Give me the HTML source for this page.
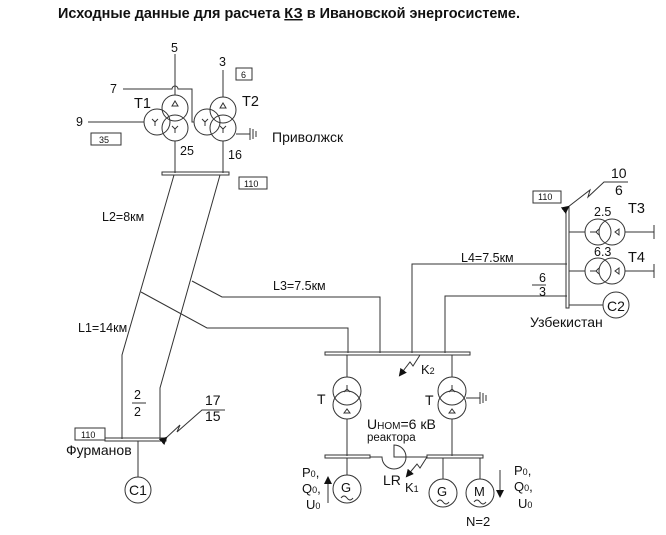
<!DOCTYPE html>
<html><head><meta charset="utf-8"><style>
html,body{margin:0;padding:0;background:#fff;}
svg{display:block;font-family:"Liberation Sans",sans-serif;}
text{fill:#111;}
</style></head><body>
<svg width="666" height="535" viewBox="0 0 666 535" xmlns="http://www.w3.org/2000/svg">
<defs><marker id="ah" markerWidth="8" markerHeight="8" refX="6" refY="4" orient="auto"><path d="M0,0 L8,4 L0,8 z" fill="#111"/></marker></defs>
<text x="58" y="18" font-size="14.5" font-weight="bold" textLength="462" lengthAdjust="spacingAndGlyphs">Исходные данные для расчета <tspan text-decoration="underline">КЗ</tspan> в Ивановской энергосистеме.</text>
<g stroke="#333" stroke-width="1" fill="none">
<line x1="175" y1="54" x2="175" y2="95"/>
<path d="M123 89 H172 A3 3 0 0 1 178 89 H192 V122 H194"/>
<line x1="88" y1="122" x2="144" y2="122"/>
<circle cx="157" cy="122" r="13"/>
<circle cx="175" cy="128" r="13"/>
<circle cx="175" cy="108" r="13"/>
<line x1="223" y1="70" x2="223" y2="97"/>
<circle cx="223" cy="110" r="13"/>
<circle cx="207" cy="122" r="13"/>
<circle cx="223" cy="128" r="13"/>
<path d="M172 106 L175 101 L178 106 Z M220 108 L223 103 L226 108 Z"/>
<path d="M152 119 L155 122 L158 119 M155 122 V126 M202 119 L205 122 L208 119 M205 122 V126 M175 129 L172 126 M175 129 L178 126 M175 129 V133 M223 129 L220 126 M223 129 L226 126 M223 129 V133"/>
<line x1="236" y1="134" x2="250" y2="134"/>
<line x1="250" y1="128" x2="250" y2="140"/><line x1="253" y1="129" x2="253" y2="139"/><line x1="256" y1="131" x2="256" y2="137"/>
<line x1="175" y1="141" x2="175" y2="173"/>
<line x1="223" y1="141" x2="223" y2="173"/>
<rect x="162" y="172" width="67" height="3"/>
<rect x="91" y="133" width="30" height="12"/>
<rect x="236" y="68" width="16" height="12"/>
<rect x="239" y="177" width="28" height="12"/>
<path d="M174 175 L122 355 V439"/>
<path d="M220 175 L160 388 V439"/>
<path d="M141 292 L207 328 H348 V353"/>
<path d="M192 281 L222 297 H380 V353"/>
<path d="M412 353 V264 H567"/>
<path d="M445 353 V296 H567"/>
<rect x="325" y="352" width="145" height="3"/>
<rect x="566" y="207" width="3" height="101"/>
<line x1="569" y1="232" x2="585" y2="232"/>
<circle cx="598" cy="232" r="13"/><circle cx="612" cy="232" r="13"/>
<line x1="625" y1="232" x2="654" y2="232"/><line x1="654" y1="225" x2="654" y2="239"/>
<line x1="569" y1="271" x2="585" y2="271"/>
<circle cx="598" cy="271" r="13"/><circle cx="612" cy="271" r="13"/>
<line x1="625" y1="271" x2="654" y2="271"/><line x1="654" y1="264" x2="654" y2="278"/>
<path d="M590 232 H596 M596 232 L599 229 M596 232 L599 235 M619 229 L615 232 L619 235 Z M590 271 H596 M596 271 L599 268 M596 271 L599 274 M619 268 L615 271 L619 274 Z"/>
<line x1="569" y1="305" x2="603" y2="305"/>
<circle cx="616" cy="305" r="13"/>
<rect x="533" y="191" width="28" height="12"/>
<path d="M568 207 L590 190 L588 197 L604 182 H628" marker-start="url(#ah)"/>
<rect x="105" y="438" width="61" height="3"/>
<line x1="138" y1="441" x2="138" y2="477"/>
<circle cx="138" cy="490" r="13"/>
<rect x="75" y="428" width="30" height="12"/>
<path d="M166 438 L180 425 L177 432 L202 410 H225" marker-start="url(#ah)"/>
<line x1="347" y1="355" x2="347" y2="377"/>
<circle cx="347" cy="391" r="14"/><circle cx="347" cy="405" r="14"/>
<line x1="347" y1="419" x2="347" y2="456"/>
<line x1="452" y1="355" x2="452" y2="377"/>
<circle cx="452" cy="391" r="14"/><circle cx="452" cy="405" r="14"/>
<line x1="452" y1="419" x2="452" y2="456"/>
<path d="M347 385 V389 M347 389 L344 392 M347 389 L350 392 M452 385 V389 M452 389 L449 392 M452 389 L455 392 M344 413 L347 409 L350 413 Z M449 413 L452 409 L455 413 Z"/>
<line x1="466" y1="398" x2="480" y2="398"/>
<line x1="480" y1="392" x2="480" y2="404"/><line x1="483" y1="393" x2="483" y2="403"/><line x1="486" y1="395" x2="486" y2="401"/>
<rect x="325" y="455" width="45" height="3"/>
<rect x="427" y="455" width="56" height="3"/>
<path d="M370 457 H382 A12 12 0 1 0 394 445 V457 H427"/>
<line x1="347" y1="458" x2="347" y2="475"/>
<circle cx="347" cy="489" r="14"/>
<line x1="443" y1="458" x2="443" y2="479"/>
<circle cx="443" cy="493" r="14"/>
<line x1="480" y1="458" x2="480" y2="479"/>
<circle cx="480" cy="493" r="14"/>
<path d="M341 498 Q344 494 347 498 T353 498 M437 502 Q440 498 443 502 T449 502 M474 502 Q477 498 480 502 T486 502"/>
<path d="M420 355 L413 366 L410 362 L400 375" marker-end="url(#ah)"/>
<path d="M427 457 L420 468 L417 464 L407 476" marker-end="url(#ah)"/>
<line x1="328" y1="503" x2="328" y2="478" marker-end="url(#ah)"/>
<line x1="500" y1="470" x2="500" y2="496" marker-end="url(#ah)"/>
<line x1="132" y1="403" x2="146" y2="403"/>
<line x1="532" y1="285" x2="546" y2="285"/>
</g>
<g font-size="12.5">
<text x="171" y="52">5</text><text x="110" y="93">7</text><text x="76" y="126">9</text>
<text x="219" y="66">3</text><text x="241" y="78" font-size="9">6</text>
<text x="134" y="108" font-size="14.5">T1</text><text x="242" y="106" font-size="14.5">T2</text>
<text x="99" y="143" font-size="9">35</text>
<text x="180" y="155">25</text><text x="228" y="159">16</text>
<text x="272" y="142" font-size="14">Приволжск</text>
<text x="244" y="187" font-size="9">110</text>
<text x="102" y="221">L2=8км</text>
<text x="78" y="332">L1=14км</text>
<text x="273" y="290">L3=7.5км</text>
<text x="461" y="262">L4=7.5км</text>
<text x="539" y="282">6</text><text x="539" y="296">3</text>
<text x="538" y="200" font-size="9">110</text>
<text x="611" y="178" font-size="14">10</text><text x="615" y="195" font-size="14">6</text>
<text x="594" y="216">2.5</text><text x="594" y="256">6.3</text>
<text x="628" y="213" font-size="14.5">T3</text><text x="628" y="262" font-size="14.5">T4</text>
<text x="607" y="311" font-size="14">C2</text>
<text x="530" y="327" font-size="14">Узбекистан</text>
<text x="134" y="399">2</text><text x="134" y="416">2</text>
<text x="205" y="405" font-size="14">17</text><text x="205" y="421" font-size="14">15</text>
<text x="81" y="438" font-size="9">110</text>
<text x="66" y="455" font-size="14">Фурманов</text>
<text x="129" y="495" font-size="14">C1</text>
<text x="421" y="374" font-size="13">K<tspan font-size="9">2</tspan></text>
<text x="317" y="404" font-size="14">T</text><text x="425" y="405" font-size="14">T</text>
<text x="367" y="429" font-size="14">U<tspan font-size="10">НОМ</tspan>=6 кВ</text>
<text x="367" y="441" font-size="11.5">реактора</text>
<text x="383" y="485" font-size="14">LR</text>
<text x="405" y="492" font-size="13">K<tspan font-size="9">1</tspan></text>
<text x="341" y="492" font-size="13">G</text>
<text x="437" y="496" font-size="13">G</text>
<text x="474" y="496" font-size="13">M</text>
<text x="302" y="477" font-size="13">P<tspan font-size="9">0</tspan>,</text>
<text x="302" y="493" font-size="13">Q<tspan font-size="9">0</tspan>,</text>
<text x="306" y="509" font-size="13">U<tspan font-size="9">0</tspan></text>
<text x="514" y="475" font-size="13">P<tspan font-size="9">0</tspan>,</text>
<text x="514" y="491" font-size="13">Q<tspan font-size="9">0</tspan>,</text>
<text x="518" y="508" font-size="13">U<tspan font-size="9">0</tspan></text>
<text x="466" y="526" font-size="13">N=2</text>
</g>
</svg>
</body></html>
